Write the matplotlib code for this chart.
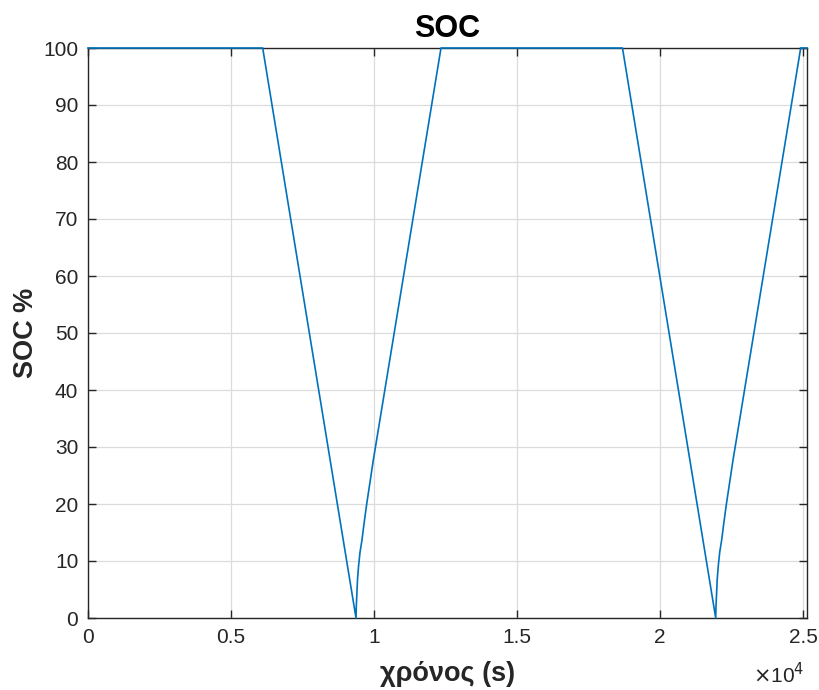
import matplotlib
matplotlib.use("Agg")
import matplotlib.pyplot as plt
import numpy as np

# Data (time in seconds, SOC in %)
time_s = [0, 6108, 9371, 9381, 9399, 9423, 9458, 9510, 9580, 9650, 9745, 9976, 12343,
          18688, 21948, 21958, 21976, 22000, 22035, 22087, 22157, 22227, 22322, 22553, 24920,
          25140]
soc_pct = [100, 100, 0, 2, 4, 6.7, 9, 11.5, 13.7, 16.5, 20, 27.7, 100,
           100, 0, 2, 4, 6.7, 9, 11.5, 13.7, 16.5, 20, 27.7, 100,
           100]

x_ticks = [0, 5000, 10000, 15000, 20000, 25000]
x_tick_labels = ["0", "0.5", "1", "1.5", "2", "2.5"]
y_ticks = [0, 10, 20, 30, 40, 50, 60, 70, 80, 90, 100]

plt.rcParams['font.family'] = ['Liberation Sans', 'DejaVu Sans']

fig = plt.figure(figsize=(8.19, 6.9), dpi=100)
ax = fig.add_axes([88/819, 72/690, 719/819, 570/690])

ax.plot(time_s, soc_pct, color='#0072BD', linewidth=1.2, clip_on=False, zorder=5)

ax.set_xlim(0, 25140)
ax.set_ylim(0, 100)
ax.set_xticks(x_ticks)
ax.set_xticklabels(x_tick_labels)
ax.set_yticks(y_ticks)

ax.grid(True, color='#dcdcdc', linewidth=0.9)
ax.set_axisbelow(True)

for s in ax.spines.values():
    s.set_color('#262626')
    s.set_linewidth(1.0)
    s.set_zorder(3)

ax.tick_params(direction='in', length=6, width=1.0, colors='#262626',
               labelsize=15, top=True, right=True, pad=7)
for lbl in ax.get_xticklabels() + ax.get_yticklabels():
    lbl.set_color('#262626')

ax.set_title('SOC', fontsize=22, fontweight='bold', color='black', pad=8)
ax.set_xlabel('χρόνος (s)', fontsize=19.5, fontweight='bold', color='#262626', labelpad=10)
ax.set_ylabel('SOC %', fontsize=19.5, fontweight='bold', color='#262626', labelpad=3)

fig.text(753/819, 1 - 675/690, r'$\times$10$^{4}$', fontsize=15, color='#262626',
         ha='left', va='center')

fig.savefig('out.png', dpi=100)
